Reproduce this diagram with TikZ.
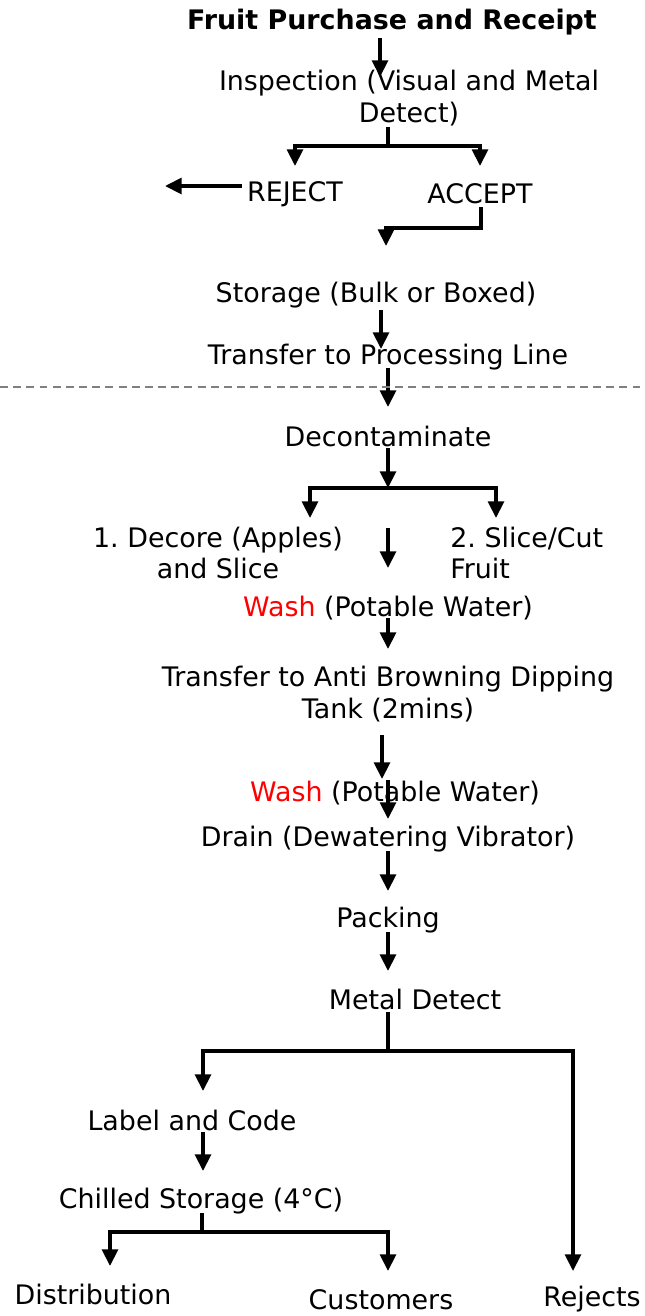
\documentclass[tikz,border=0pt]{standalone}
\usepackage{fontspec}
\setmainfont{DejaVu Sans}
\frenchspacing
\usetikzlibrary{arrows.meta}
\tikzset{
  stage/.style={font=\fontsize{15.3}{17.9}\selectfont, inner sep=0pt, align=center, yshift=-1.1pt},
  flow/.style={line width=2.1pt, -{Triangle[length=9.5pt,width=9pt]}},
  link/.style={line width=2.1pt},
}
\begin{document}
\begin{tikzpicture}[x=0.02cm,y=-0.02cm]
  \useasboundingbox (0,0) rectangle (645,1316);
  %%%%%%%%%%%%%Receiving%%%%%%%%%%%%%%%%%%%%%%
  \node[stage, font=\fontsize{15.3}{17.9}\selectfont\bfseries] (purchase) at (392,20) {Fruit Purchase and Receipt};
  \node[stage] (inspect) at (409,96) {Inspection (Visual and Metal\\Detect)};
  \node[stage] (reject) at (295,192) {REJECT};
  \node[stage] (accept) at (480,192) {ACCEPT};
  \node[stage] (storage) at (376,293) {Storage (Bulk or Boxed)};
  \node[stage] (transfer) at (388,355) {Transfer to Processing Line};

  \coordinate (p1) at (380,38);  \coordinate (p2) at (380,77);
  \draw[flow] (p1) -- (p2);
  \coordinate (i1) at (388,127); \coordinate (i2) at (388,146);
  \draw[link] (i1) -- (i2);
  \coordinate (i3) at (295,166); \coordinate (i4) at (480,166);
  \draw[flow] (i2) -| (i3);
  \draw[flow] (i2) -| (i4);
  \coordinate (r1) at (165,186);
  \draw[flow] (r1 -| reject.west) ++(-5,0) -- (r1);
  \coordinate (c1) at (481,207); \coordinate (c2) at (386,246);
  \draw[flow] (c1) |- (386,228) -- (c2);
  \coordinate (s1) at (381,310); \coordinate (s2) at (381,349);
  \draw[flow] (s1) -- (s2);
  \coordinate (t1) at (388,368); \coordinate (t2) at (388,407);
  \draw[flow] (t1) -- (t2);

  %%%%%%%%%%%%%Processing line%%%%%%%%%%%%%%%%%%%%%%
  \draw[gray, line width=1.2pt, dash pattern=on 4.5pt off 3pt] (0,387) -- (645,387);

  \node[stage] (decon) at (388,435) {Decontaminate};
  \node[stage] (decore) at (218,551) {1. Decore (Apples)\\and Slice};
  \node[stage, align=left, anchor=west] (slice) at (450,551) {2. Slice/Cut\\Fruit};
  \node[stage] (washa) at (388,606) {\textcolor{red}{Wash} (Potable Water)};
  \node[stage] (dip) at (388,692) {Transfer to Anti Browning Dipping\\Tank (2mins)};
  \node[stage] (washb) at (395,791) {\textcolor{red}{Wash} (Potable Water)};
  \node[stage] (drain) at (388,837) {Drain (Dewatering Vibrator)};
  \node[stage] (packing) at (388,918) {Packing};
  \node[stage] (metal) at (415,998) {Metal Detect};

  \coordinate (d1) at (388,448); \coordinate (d2) at (388,488);
  \draw[flow] (d1) -- (d2);
  \coordinate (d3) at (310,518); \coordinate (d4) at (496,518);
  \draw[flow] (d2) -| (d3);
  \draw[flow] (d2) -| (d4);
  \coordinate (m1) at (388,528); \coordinate (m2) at (388,568);
  \draw[flow] (m1) -- (m2);
  \coordinate (w1) at (388,618); \coordinate (w2) at (388,649);
  \draw[flow] (w1) -- (w2);
  \coordinate (k1) at (382,735); \coordinate (k2) at (382,779);
  \draw[flow] (k1) -- (k2);
  \coordinate (k3) at (388,780); \coordinate (k4) at (388,819);
  \draw[flow] (k3) -- (k4);
  \coordinate (e1) at (388,851); \coordinate (e2) at (388,891);
  \draw[flow] (e1) -- (e2);
  \coordinate (f1) at (388,932); \coordinate (f2) at (388,971);
  \draw[flow] (f1) -- (f2);

  %%%%%%%%%%%%%Dispatch%%%%%%%%%%%%%%%%%%%%%%
  \node[stage] (label) at (192,1119) {Label and Code};
  \node[stage] (chilled) at (201,1199) {Chilled Storage (4\textdegree C)};
  \node[stage] (distrib) at (93,1293) {Distribution};
  \node[stage] (customers) at (381,1298) {Customers};
  \node[stage] (rejects) at (592,1297) {Rejects};

  \coordinate (g1) at (388,1012); \coordinate (g2) at (388,1051);
  \draw[link] (g1) -- (g2);
  \coordinate (g3) at (203,1091); \coordinate (g4) at (573,1271);
  \draw[flow] (g2) -| (g3);
  \draw[flow] (g2) -| (g4);
  \coordinate (h1) at (203,1132); \coordinate (h2) at (203,1171);
  \draw[flow] (h1) -- (h2);
  \coordinate (q1) at (202,1213); \coordinate (q2) at (202,1232);
  \draw[link] (q1) -- (q2);
  \coordinate (q3) at (110,1266); \coordinate (q4) at (388,1271);
  \draw[flow] (q2) -| (q3);
  \draw[flow] (q2) -| (q4);
\end{tikzpicture}
\end{document}
